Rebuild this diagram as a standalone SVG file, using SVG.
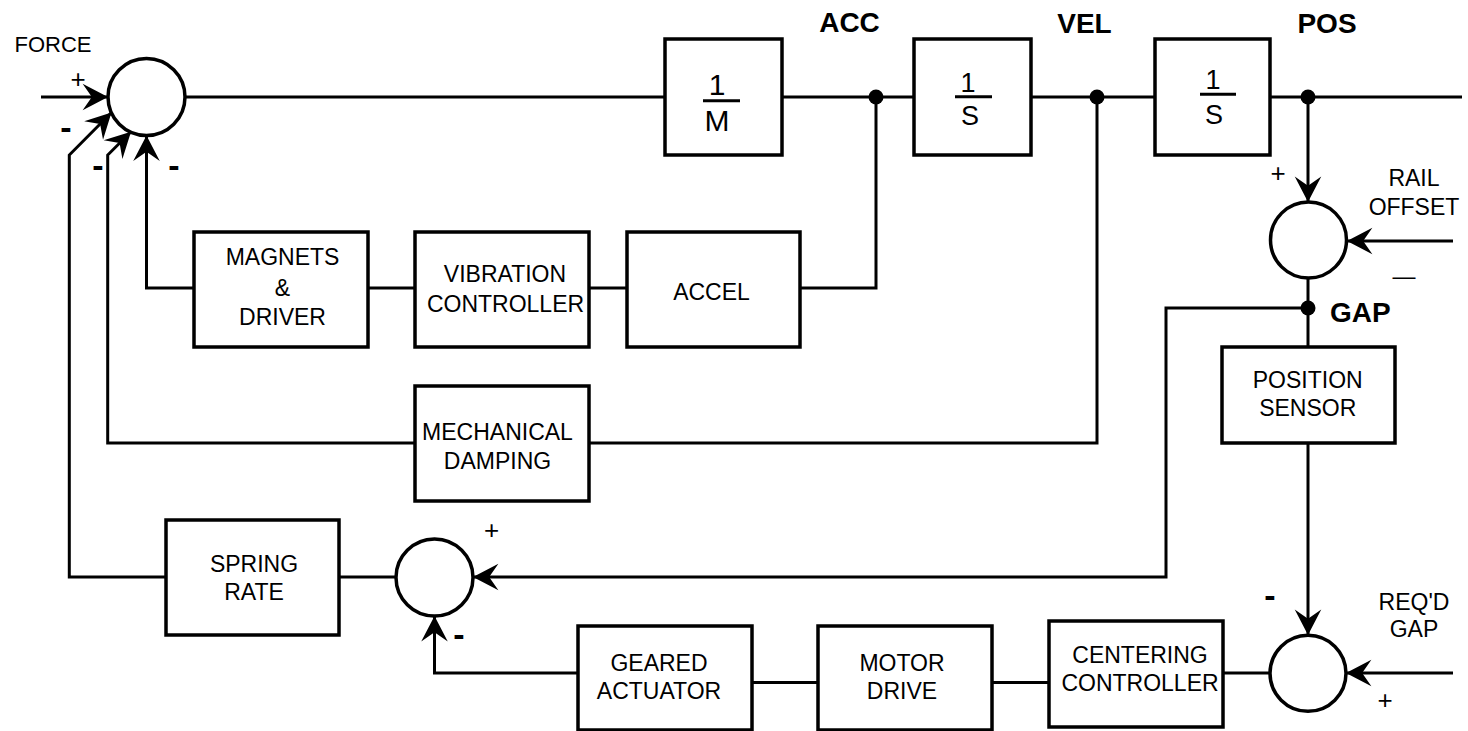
<svg xmlns="http://www.w3.org/2000/svg" width="1468" height="731" viewBox="0 0 1468 731">
<style>
.box{fill:#fff;stroke:#000;stroke-width:3.5}
.sum{fill:#fff;stroke:#000;stroke-width:3.5}
.ln{fill:none;stroke:#000;stroke-width:3}
.arr{fill:none;stroke:#000;stroke-width:3;marker-end:url(#ah)}
.dot{fill:#000}
text{font-family:"Liberation Sans",Arial,sans-serif;fill:#000}
.t{font-size:23px;text-anchor:middle}
.b{font-size:28px;font-weight:bold}
.s{font-size:23px;text-anchor:middle}
.p{font-size:26px;text-anchor:middle}
.m{font-size:34px;font-weight:bold;text-anchor:middle}
.f1{font-size:30px;text-anchor:middle}
.f2{font-size:27px;text-anchor:middle}
</style>
<defs>
<marker id="ah" markerUnits="userSpaceOnUse" markerWidth="30" markerHeight="30" viewBox="-24 -13 26 26" refX="0" refY="0" orient="auto">
<path d="M0,0 L-22,-11.5 L-14,0 L-22,11.5 Z" fill="#000"/>
</marker>
</defs>
<rect width="1468" height="731" fill="#fff"/>

<g id="connectors">
<line class="arr" x1="41" y1="97" x2="108" y2="97"/>
<line class="ln" x1="185" y1="97" x2="665" y2="97"/>
<line class="ln" x1="782" y1="97" x2="914" y2="97"/>
<line class="ln" x1="1031" y1="97" x2="1155" y2="97"/>
<line class="ln" x1="1270" y1="97" x2="1462" y2="97"/>
<polyline class="ln" points="876,97 876,288 800,288"/>
<line class="ln" x1="627" y1="288" x2="589" y2="288"/>
<line class="ln" x1="415" y1="288" x2="368" y2="288"/>
<polyline class="arr" points="194,288 146.5,288 146.5,135.5"/>
<polyline class="ln" points="1097,97 1097,443 589,443"/>
<polyline class="arr" points="415,443 107.7,443 107.7,155 131,131.7"/>
<polyline class="arr" points="166,577 69.3,577 69.3,155 111.5,112.5"/>
<line class="ln" x1="396" y1="577" x2="339" y2="577"/>
<polyline class="arr" points="1308,308 1166,308 1166,577 473,577"/>
<line class="arr" x1="1308" y1="97" x2="1308" y2="202"/>
<line class="arr" x1="1453" y1="241" x2="1347" y2="241"/>
<line class="ln" x1="1308" y1="278" x2="1308" y2="347"/>
<line class="arr" x1="1308" y1="443" x2="1308" y2="635"/>
<line class="arr" x1="1453" y1="673" x2="1346" y2="673"/>
<line class="ln" x1="1270" y1="673" x2="1223" y2="673"/>
<line class="ln" x1="1049" y1="682.5" x2="992" y2="682.5"/>
<line class="ln" x1="818" y1="682.5" x2="752" y2="682.5"/>
<polyline class="arr" points="578,673 434.5,673 434.5,616"/>
<circle class="dot" cx="876" cy="97" r="7.5"/>
<circle class="dot" cx="1097" cy="97" r="7.5"/>
<circle class="dot" cx="1308" cy="97" r="7.5"/>
<circle class="dot" cx="1308" cy="308" r="7.5"/>
</g>

<g id="sum1"><circle class="sum" cx="146.5" cy="97" r="38.5"/></g>
<g id="sum2"><circle class="sum" cx="1308.5" cy="240" r="38"/></g>
<g id="sum3"><circle class="sum" cx="434.5" cy="577.5" r="38.5"/></g>
<g id="sum4"><circle class="sum" cx="1308" cy="673.3" r="38"/></g>

<g id="inv-mass">
<rect class="box" x="665" y="39" width="117" height="116"/>
<text class="f1" x="717" y="95">1</text>
<line x1="703" y1="100.7" x2="740" y2="100.7" stroke="#000" stroke-width="3"/>
<text class="f1" x="717" y="131">M</text>
</g>
<g id="integ1">
<rect class="box" x="914" y="39" width="117" height="116"/>
<text class="f2" x="968" y="91.5">1</text>
<line x1="955" y1="96.7" x2="992" y2="96.7" stroke="#000" stroke-width="3"/>
<text class="f2" x="970" y="125">S</text>
</g>
<g id="integ2">
<rect class="box" x="1155" y="39" width="115" height="116"/>
<text class="f2" x="1213" y="88.5">1</text>
<line x1="1200" y1="94.3" x2="1236" y2="94.3" stroke="#000" stroke-width="3"/>
<text class="f2" x="1214" y="124">S</text>
</g>
<g id="magnets">
<rect class="box" x="194" y="232" width="174" height="115"/>
<text class="t" x="282.5" y="265">MAGNETS</text>
<text class="t" x="282.5" y="295.5">&amp;</text>
<text class="t" x="282.5" y="324.5">DRIVER</text>
</g>
<g id="vibration">
<rect class="box" x="415" y="232" width="174" height="115"/>
<text class="t" x="505" y="282">VIBRATION</text>
<text class="t" x="505.5" y="311.5">CONTROLLER</text>
</g>
<g id="accel">
<rect class="box" x="627" y="232" width="173" height="115"/>
<text class="t" x="711.5" y="300">ACCEL</text>
</g>
<g id="mech">
<rect class="box" x="415" y="386" width="174" height="115"/>
<text class="t" x="497.5" y="440">MECHANICAL</text>
<text class="t" x="497.5" y="469">DAMPING</text>
</g>
<g id="spring">
<rect class="box" x="166" y="520" width="173" height="115"/>
<text class="t" x="254" y="571.5">SPRING</text>
<text class="t" x="254" y="600">RATE</text>
</g>
<g id="possensor">
<rect class="box" x="1222" y="347" width="173" height="96"/>
<text class="t" x="1307.7" y="388">POSITION</text>
<text class="t" x="1307.7" y="416">SENSOR</text>
</g>
<g id="geared">
<rect class="box" x="578" y="626" width="174" height="104"/>
<text class="t" x="659" y="671">GEARED</text>
<text class="t" x="659" y="699">ACTUATOR</text>
</g>
<g id="motor">
<rect class="box" x="818" y="626" width="174" height="104"/>
<text class="t" x="902" y="671">MOTOR</text>
<text class="t" x="902" y="699">DRIVE</text>
</g>
<g id="centering">
<rect class="box" x="1049" y="621" width="174" height="106"/>
<text class="t" x="1140" y="663">CENTERING</text>
<text class="t" x="1140" y="691">CONTROLLER</text>
</g>

<g id="labels">
<text class="t" x="53" y="52" style="font-size:22px">FORCE</text>
<text class="b" x="849.5" y="31.5" text-anchor="middle">ACC</text>
<text class="b" x="1084.5" y="33" text-anchor="middle">VEL</text>
<text class="b" x="1327" y="32.5" text-anchor="middle">POS</text>
<text class="b" x="1330" y="321.5">GAP</text>
<text class="t" x="1414" y="186">RAIL</text>
<text class="t" x="1414" y="215">OFFSET</text>
<text class="t" x="1414" y="610">REQ'D</text>
<text class="t" x="1414" y="637">GAP</text>
<text class="p" x="78" y="87.5">+</text>
<text class="m" x="66" y="138.5">-</text>
<text class="m" x="98" y="177">-</text>
<text class="m" x="174" y="177">-</text>
<text class="p" x="1278" y="182.4">+</text>
<text class="s" x="1404" y="284">—</text>
<text class="p" x="491.7" y="539.4">+</text>
<text class="m" x="459" y="646">-</text>
<text class="m" x="1270" y="607">-</text>
<text class="p" x="1385" y="709.4">+</text>
</g>
</svg>
